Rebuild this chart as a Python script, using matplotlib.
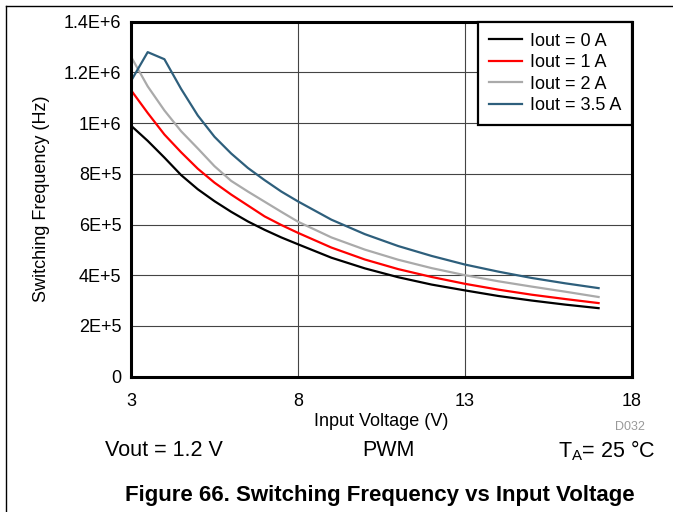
import matplotlib
matplotlib.use("Agg")
import matplotlib.pyplot as plt
from matplotlib.lines import Line2D

plt.rcParams["font.family"] = ["Liberation Sans", "DejaVu Sans"]

# input voltage (V)
vin = [3, 3.5, 4, 4.5, 5, 5.5, 6, 6.5, 7, 7.5, 8,
       9, 10, 11, 12, 13, 14, 15, 16, 17]

# switching frequency (Hz) per load current
f_0a = [990e3, 930e3, 864e3, 795e3, 739e3, 692e3, 650e3, 612e3, 579e3, 549e3, 522e3,
        469e3, 427e3, 392e3, 363e3, 340e3, 318e3, 300e3, 284e3, 270e3]
f_1a = [1130e3, 1040e3, 955e3, 885e3, 820e3, 765e3, 718e3, 675e3, 632e3, 598e3, 567e3,
        509e3, 462e3, 424e3, 393e3, 366e3, 343e3, 323e3, 306e3, 290e3]
f_2a = [1262e3, 1145e3, 1050e3, 968e3, 900e3, 830e3, 772e3, 730e3, 690e3, 650e3, 611e3,
        549e3, 501e3, 461e3, 428e3, 400e3, 376e3, 355e3, 335e3, 314e3]
f_35a = [1166e3, 1280e3, 1252e3, 1135e3, 1030e3, 946e3, 880e3, 823e3, 775e3, 730e3, 691e3,
         619e3, 562e3, 515e3, 476e3, 442e3, 414e3, 389e3, 368e3, 349e3]

labels = ["Iout = 0 A", "Iout = 1 A", "Iout = 2 A", "Iout = 3.5 A"]
colors = ["black", "#ff0000", "#aaaaaa", "#2e5f7c"]

xticks = [3, 8, 13, 18]
yticks = [0, 2e5, 4e5, 6e5, 8e5, 1e6, 1.2e6, 1.4e6]
ytick_labels = ["0", "2E+5", "4E+5", "6E+5", "8E+5", "1E+6", "1.2E+6", "1.4E+6"]

fig = plt.figure(figsize=(6.73, 5.12), dpi=100)
ax = fig.add_axes([131 / 673, 1 - 376.6 / 512, 501 / 673, 354.9 / 512])

for f, lab, c in zip([f_0a, f_1a, f_2a, f_35a], labels, colors):
    ax.plot(vin, f, color=c, lw=1.6, label=lab, zorder=3)

ax.set_xlim(3, 18)
ax.set_ylim(0, 1.4e6)
ax.set_xticks(xticks)
ax.set_yticks(yticks)
ax.set_yticklabels(ytick_labels)
ax.tick_params(length=0, labelsize=13)
ax.tick_params(axis="x", pad=12)
ax.tick_params(axis="y", pad=7)
ax.grid(True, color="#444444", lw=0.8)
for side in ax.spines.values():
    side.set_linewidth(2.2)
    side.set_zorder(4)

ax.set_xlabel("Input Voltage (V)", fontsize=13, labelpad=2)
ax.set_ylabel("Switching Frequency (Hz)", fontsize=13, labelpad=10)

leg = ax.legend(loc="upper right", bbox_to_anchor=(1, 1), borderaxespad=0,
                fancybox=False, fontsize=13, handlelength=1.8,
                handletextpad=0.45, borderpad=0.6, labelspacing=0.25)
leg.get_frame().set_edgecolor("black")
leg.get_frame().set_linewidth(1.6)
leg.get_frame().set_alpha(1)

fig.text(645 / 673, 1 - 427 / 512, "D032", color="#999999", fontsize=9,
         ha="right", va="center")
fig.text(105 / 673, 1 - 451 / 512, "Vout = 1.2 V", fontsize=15.5, ha="left", va="center")
fig.text(388 / 673, 1 - 451 / 512, "PWM", fontsize=15.5, ha="center", va="center")
fig.text(656 / 673, 1 - 451 / 512, "T$_\\mathregular{A}$= 25 °C", fontsize=15.5,
         ha="right", va="center")
fig.text(380 / 673, 1 - 495 / 512, "Figure 66. Switching Frequency vs Input Voltage",
         fontsize=16, fontweight="bold", ha="center", va="center")

# page frame (top and left edges)
fig.add_artist(Line2D([6 / 673, 1], [1 - 6 / 512, 1 - 6 / 512], color="black", lw=1))
fig.add_artist(Line2D([6 / 673, 6 / 673], [0, 1 - 6 / 512], color="black", lw=1))

fig.savefig("out.png", dpi=100)
